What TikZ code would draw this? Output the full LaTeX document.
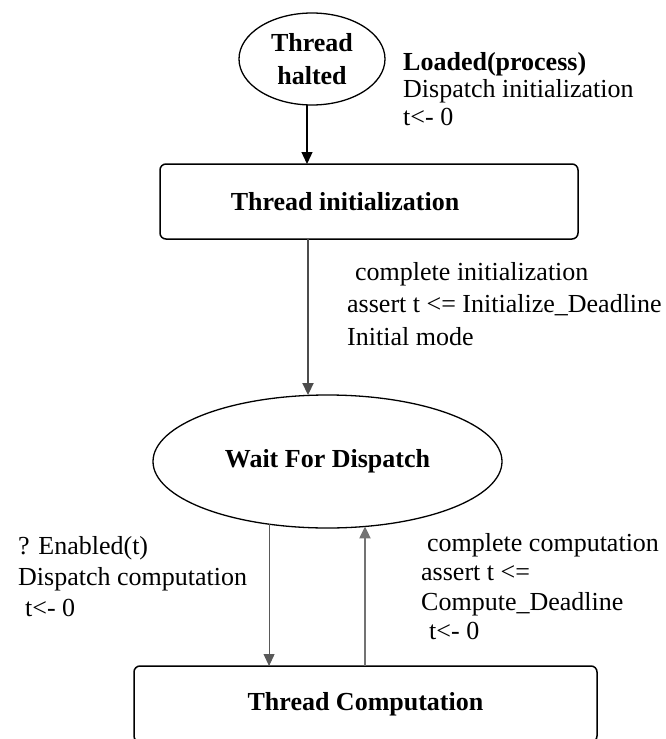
\documentclass[tikz,border=0pt]{standalone}
\usepackage{fontspec}
\setmainfont{Liberation Serif}
\usetikzlibrary{arrows.meta,positioning,shapes.geometric}

\begin{document}
\begin{tikzpicture}[x=1pt,y=-1pt,
  every node/.style={font=\fontsize{26}{29.5}\selectfont},
  state/.style={ellipse,draw,line width=1.3pt,align=center,inner sep=0pt,outer sep=0pt,
    font=\fontsize{26}{33}\selectfont\bfseries},
  phase/.style={rectangle,rounded corners=6pt,draw,line width=1.5pt,inner sep=0pt,outer sep=0pt,
    font=\fontsize{26}{29.5}\selectfont\bfseries},
  guard/.style={align=left,inner sep=0pt,anchor=north west},
  trans/.style={-{Triangle[length=12pt,width=11pt]},line width=1.3pt}]
  \useasboundingbox (0,0) rectangle (665,739);
  \node[state,minimum width=146pt,minimum height=92pt] (halted) at (312,59) {Thread\\halted};
  \node[phase,minimum width=418pt,minimum height=75pt] (init) at (369,201.5) {\hspace*{-48pt}Thread initialization};
  \node[state,minimum width=349pt,minimum height=133pt] (wait) at (327.5,461.5) {Wait For Dispatch};
  \node[phase,minimum width=463pt,minimum height=76pt] (comp) at (365.5,704) {Thread Computation};
  % transition labels
  \node[guard,font=\fontsize{26}{27.5}\selectfont] (load) at (403,52)
    {\textbf{Loaded(process)}\\Dispatch initialization\\t<- 0};
  \node[guard,font=\fontsize{26}{32.5}\selectfont] (initdone) at (347,262)
    {\hspace{8pt}complete initialization\\assert t <= Initialize\_Deadline\\Initial mode};
  \node[guard,font=\fontsize{26}{31}\selectfont] (enab) at (18,536)
    {? Enabled(t)\\Dispatch computation\\\hspace{7pt}t<- 0};
  \node[guard] (compdone) at (421,533)
    {\hspace{6pt}complete computation\\assert t <=\\Compute\_Deadline\\\hspace{8pt}t<- 0};
  % transitions
  \draw[trans] (halted.south -| 307,0) -- (init.north -| 307,0);
  \draw[trans,black!70,line width=2.2pt] (init.south -| 308,0) -- (wait.north -| 308,0);
  \draw[trans,black!65,line width=0.9pt] (wait.227.5) -- (wait.227.5 |- comp.north);
  \draw[trans,black!55,line width=2.2pt] (comp.north -| wait.300.7) -- (wait.300.7);
\end{tikzpicture}
\end{document}
